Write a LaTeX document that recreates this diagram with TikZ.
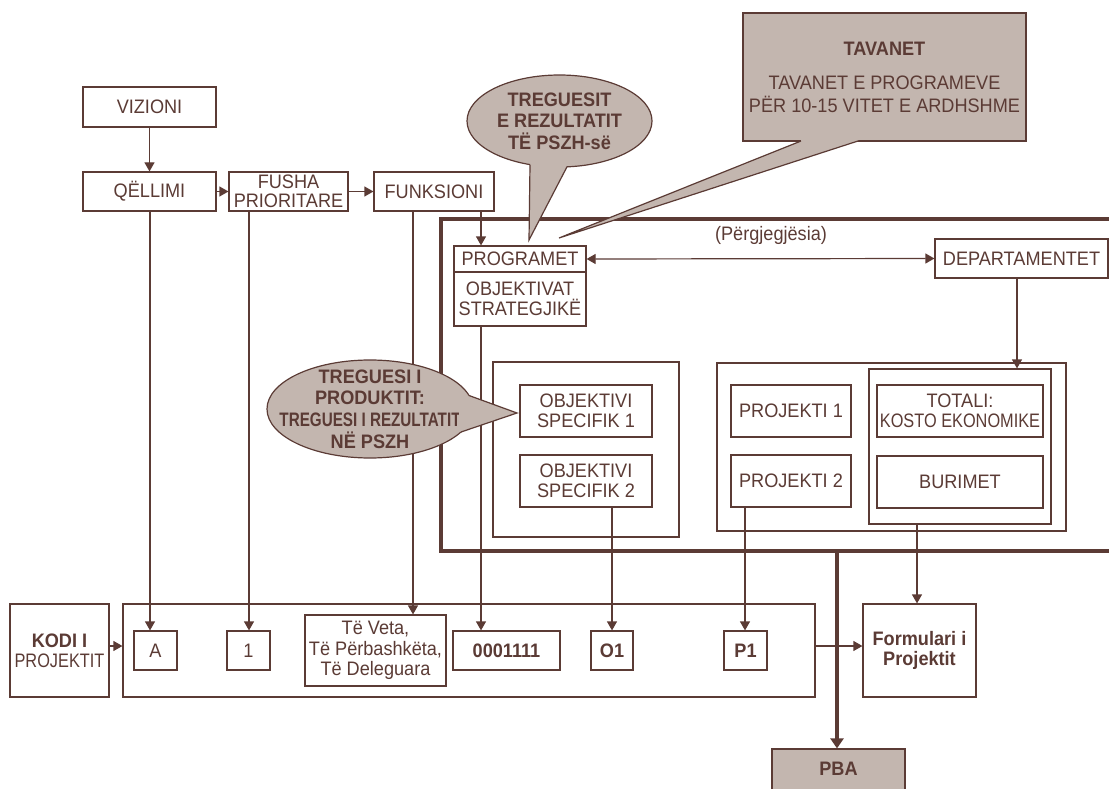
\documentclass[tikz,border=0pt]{standalone}
\usepackage{fontspec}
\setmainfont{Liberation Sans}[FakeStretch=0.93]
\usepackage{graphicx}
\usetikzlibrary{arrows.meta,shapes.geometric}
\definecolor{lc}{HTML}{5B3B35}
\definecolor{fc}{HTML}{C3B6AF}
\newcommand\fsz{\fontsize{19.5pt}{19.5pt}\selectfont}
\begin{document}
\begin{tikzpicture}[x=1pt,y=-1pt,
  every node/.style={text=lc},
  bx/.style={draw=lc, line width=1.2pt, inner sep=0pt, align=center, font=\fsz, fill=white},
  callbox/.style={bx, fill=fc},
  ln/.style={draw=lc, line width=1.2pt},
  arr/.style={ln, -{Triangle[length=9pt,width=10pt]}},
  darr/.style={ln, {Triangle[length=9pt,width=10pt]}-{Triangle[length=9pt,width=10pt]}},
  thickarr/.style={draw=lc, line width=3.5pt, -{Triangle[length=10pt,width=13pt]}},
  frame/.style={draw=lc, line width=3.5pt},
  tailfill/.style={fill=fc},
  tailedge/.style={draw=lc, line width=1.2pt, line join=miter},
  ctext/.style={align=center, inner sep=0pt, font=\bfseries\fontsize{19.5pt}{21.7pt}\selectfont}
]
\useasboundingbox (0,0) rectangle (1109,789);

% column / row coordinates
\coordinate (xA) at (150,0);
\coordinate (x1) at (249,0);
\coordinate (xF) at (413,0);
\coordinate (xP) at (481,0);
\coordinate (xO) at (612,0);
\coordinate (xPr) at (745,0);
\coordinate (xT) at (837,0);
\coordinate (xFo) at (917,0);
\coordinate (xD) at (1017,0);
\coordinate (yr) at (0,646);

% top row
\node[bx,minimum width=133pt,minimum height=40pt] (viz) at (149.5,107) {VIZIONI};
\node[bx,minimum width=133pt,minimum height=39pt] (qel) at (149.5,191.5) {QËLLIMI};
\node[bx,minimum width=119pt,minimum height=39pt] (fus) at (288.5,191.5) {FUSHA\\PRIORITARE};
\node[bx,minimum width=120pt,minimum height=39pt] (fun) at (434,191.5) {FUNKSIONI};

% frame
\coordinate (frTR) at (1115,219);
\coordinate (frTL) at (441,219);
\coordinate (frBL) at (441,551);
\coordinate (frBR) at (1115,551);
\coordinate (frB) at (837,551);
\draw[frame] (frTR) -- (frTL) -- (frBL) -- (frBR);

% programs / departments
\node[bx,minimum width=132pt,minimum height=26pt] (prog) at (520,259) {PROGRAMET};
\node[bx,minimum width=132pt,minimum height=54pt] (obj) at (520,299) {OBJEKTIVAT\\STRATEGJIKË};
\node[bx,minimum width=173pt,minimum height=39pt] (dep) at (1021.5,258.5) {DEPARTAMENTET};
\node[font=\fsz, inner sep=0pt] (resp) at (771,235) {(Përgjegjësia)};

% objectives
\node[bx,minimum width=186pt,minimum height=175pt] (obo) at (586,449.5) {};
\node[bx,minimum width=132pt,minimum height=52pt] (os1) at (586,411) {OBJEKTIVI\\SPECIFIK 1};
\node[bx,minimum width=132pt,minimum height=52pt] (os2) at (586,481) {OBJEKTIVI\\SPECIFIK 2};

% projects
\node[bx,minimum width=349pt,minimum height=168pt] (pro) at (891.5,447) {};
\node[bx,minimum width=120pt,minimum height=52pt] (pj1) at (791,411) {PROJEKTI 1};
\node[bx,minimum width=120pt,minimum height=52pt] (pj2) at (791,481) {PROJEKTI 2};
\node[bx,minimum width=182pt,minimum height=155pt] (inner) at (960,446.5) {};
\node[bx,minimum width=166pt,minimum height=52pt] (tot) at (960,411) {TOTALI:\\\scalebox{0.9}[1]{KOSTO EKONOMIKE}};
\node[bx,minimum width=166pt,minimum height=52pt] (bur) at (960,482) {BURIMET};

% bottom row
\node[bx,minimum width=99pt,minimum height=93pt,font=\fontsize{19.5pt}{20pt}\selectfont] (kodi) at (59.5,650.5) {\textbf{KODI I}\\\scalebox{0.9}[1]{PROJEKTIT}};
\node[bx,minimum width=692pt,minimum height=93pt] (big) at (469,650.5) {};
\node[bx,minimum width=43pt,minimum height=39pt] (bA) at (155.5,650.5) {A};
\node[bx,minimum width=43pt,minimum height=39pt] (b1) at (248.5,650.5) {1};
\node[bx,minimum width=141pt,minimum height=71pt,font=\fontsize{19.5pt}{20.5pt}\selectfont] (bV) at (375.5,650.5) {Të Veta,\\Të Përbashkëta,\\Të Deleguara};
\node[bx,minimum width=107pt,minimum height=39pt,font=\bfseries\fsz] (b0) at (506.5,650.5) {0001111};
\node[bx,minimum width=42pt,minimum height=39pt,font=\bfseries\fsz] (bO) at (612,650.5) {O1};
\node[bx,minimum width=43pt,minimum height=39pt,font=\bfseries\fsz] (bP) at (745.5,650.5) {P1};
\node[bx,minimum width=113pt,minimum height=93pt,font=\bfseries\fontsize{19.5pt}{20pt}\selectfont] (form) at (919.5,650.5) {Formulari i\\Projektit};
\node[callbox,minimum width=133pt,minimum height=52pt] (pba) at (838.5,775) {};
\node[font=\bfseries\fsz, inner sep=0pt] (pbat) at (838.5,769) {PBA};

% connectors
\draw[arr] (viz) -- (qel);
\draw[arr] (qel) -- (fus);
\draw[arr] (fus) -- (fun);
\draw[arr] (fun.south -| xP) -- (prog.north -| xP);
\draw[darr] (prog.east) -- (dep.west);
\draw[arr] (dep.south -| xD) -- (inner.north -| xD);
\draw[arr] (qel.south -| xA) -- (bA.north -| xA);
\draw[arr] (fus.south -| x1) -- (b1.north -| x1);
\draw[arr] (fun.south -| xF) -- (bV.north -| xF);
\draw[arr] (obj.south -| xP) -- (b0.north -| xP);
\draw[arr] (os2.south -| xO) -- (bO.north -| xO);
\draw[arr] (pj2.south -| xPr) -- (bP.north -| xPr);
\draw[arr] (inner.south -| xFo) -- (form.north -| xFo);
\draw[arr] (kodi.east |- yr) -- (big.west |- yr);
\draw[arr] (big.east |- yr) -- (form.west |- yr);
\draw[thickarr] (frB) -- (pba.north -| xT);

% callout: TAVANET
\node[callbox,minimum width=283pt,minimum height=128pt,font=\fontsize{19.5pt}{23pt}\selectfont] (tav) at (884.5,77) {\textbf{TAVANET}\\[11pt]TAVANET E PROGRAMEVE\\PËR 10-15 VITET E ARDHSHME};
\coordinate (tavA) at (801,141);
\coordinate (tavB) at (858,141);
\coordinate (tavT) at (559,238);
\fill[tailfill] (tavA) -- (801,138) -- (858,138) -- (tavB) -- (tavT) -- cycle;
\draw[tailedge] (tavA) -- (tavT) -- (tavB);

% callout: TREGUESIT
\node[callbox,ellipse,minimum width=185pt,minimum height=92pt] (tr1) at (559.5,121) {};
\node[ctext] (tr1t) at (tr1.center) {TREGUESIT\\E REZULTATIT\\TË PSZH-së};
\coordinate (t1A) at (530,164.6);
\coordinate (t1B) at (567,166.8);
\coordinate (t1T) at (529,240);
\fill[tailfill] (t1A) -- (532,158) -- (555,159) -- (t1B) -- (t1T) -- cycle;
\draw[tailedge] (t1A) -- (t1T) -- (t1B);

% callout: TREGUESI I PRODUKTIT
\node[callbox,ellipse,minimum width=206pt,minimum height=98pt] (tr2) at (370,409) {};
\node[ctext] (tr2t) at (tr2.center) {TREGUESI I\\PRODUKTIT:\\\scalebox{0.84}[1]{TREGUESI I REZULTATIT}\\NË PSZH};
\coordinate (t2A) at (469,395.5);
\coordinate (t2B) at (461,432);
\coordinate (t2T) at (517,413);
\fill[tailfill] (t2A) -- (t2T) -- (t2B) -- (458,430) -- (460,400) -- cycle;
\draw[tailedge] (t2A) -- (t2T) -- (t2B);
\end{tikzpicture}
\end{document}
